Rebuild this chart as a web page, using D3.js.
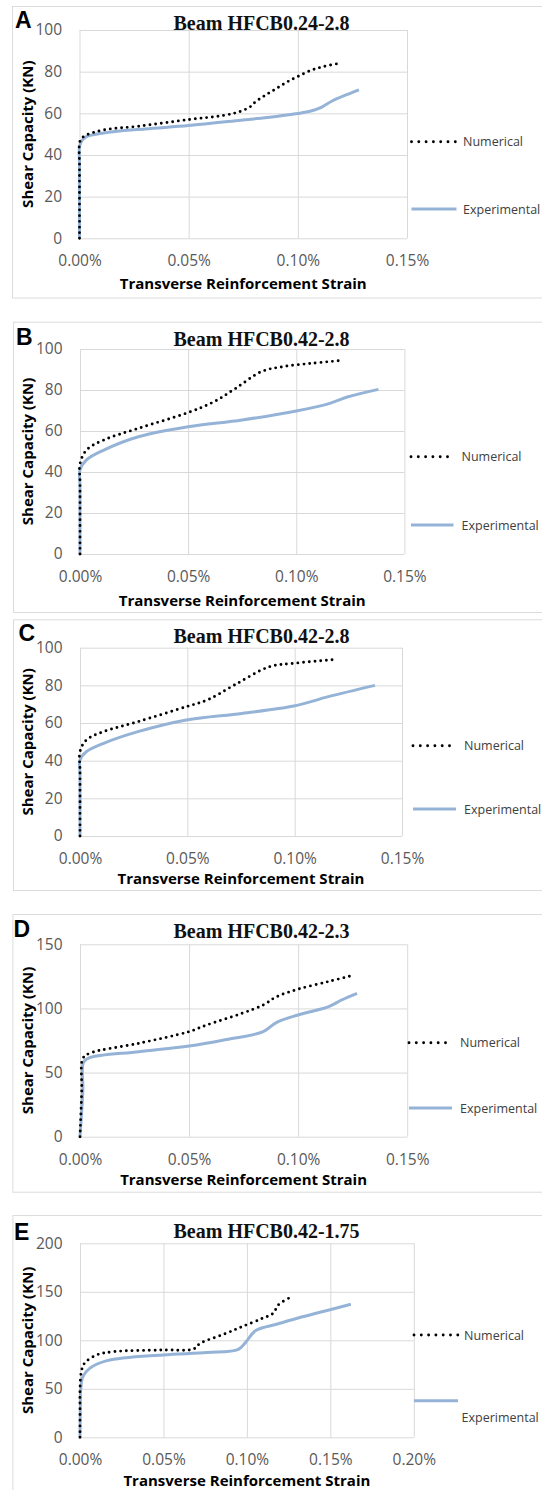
<!DOCTYPE html>
<html>
<head>
<meta charset="utf-8">
<script src="https://cdn.jsdelivr.net/npm/d3@7"></script>
<style>
  body { margin: 0; background: #fff; }
  svg { display: block; }
</style>
</head>
<body>
<svg id="fig" width="542" height="1490"></svg>
<script>
// ---- Data: transverse reinforcement strain (%) vs shear capacity (kN) ----
const panelLetters = ["A", "B", "C", "D", "E"];
const panelTitles = ["Beam HFCB0.24-2.8", "Beam HFCB0.42-2.8", "Beam HFCB0.42-2.8", "Beam HFCB0.42-2.3", "Beam HFCB0.42-1.75"];
const seriesNames = ["Numerical", "Experimental"];

const xTicksShort = [0, 0.05, 0.10, 0.15];
const xTicksLong = [0, 0.05, 0.10, 0.15, 0.20];
const yTicks100 = [0, 20, 40, 60, 80, 100];
const yTicks150 = [0, 50, 100, 150];
const yTicks200 = [0, 50, 100, 150, 200];

const numA = [[0,0],[0,35],[0,45.5],[0.0008,47.8],[0.003,49.5],[0.011,52],[0.027,53.8],[0.05,57],[0.066,59],[0.073,60.7],[0.078,63],[0.0805,65.4],[0.085,68.6],[0.09,71.8],[0.095,75],[0.1,77.7],[0.106,80.6],[0.112,82.5],[0.119,84]];
const expA = [[0,0],[0,35],[0,44],[0.001,46.8],[0.003,48.7],[0.011,50.6],[0.03,52.5],[0.05,54.1],[0.074,56.7],[0.09,58.5],[0.1,59.9],[0.106,61.1],[0.111,63],[0.1155,65.8],[0.122,68.8],[0.128,71.3]];

const numB = [[0,0],[0,35],[0,44],[0.003,50.7],[0.011,55.6],[0.027,61.3],[0.05,69],[0.062,74.3],[0.072,80.8],[0.084,89],[0.094,91.4],[0.107,93],[0.12,94.3]];
const expB = [[0,0],[0,33],[0,41],[0.003,45.9],[0.011,50.7],[0.027,57.2],[0.05,62.1],[0.075,65.4],[0.1,69.8],[0.1155,73.5],[0.124,76.7],[0.138,80.3]];

const numC = [[0,0],[0,35],[0,44.8],[0.003,51],[0.011,55.4],[0.027,60.7],[0.0496,68.7],[0.0593,72.2],[0.072,80.2],[0.0883,89.9],[0.0996,91.7],[0.1197,93.8]];
const expC = [[0,0],[0,33],[0,40.4],[0.003,44.8],[0.011,49.2],[0.027,55.4],[0.0496,61.6],[0.0754,65.1],[0.0996,69],[0.1157,74],[0.1374,80]];

const numD = [[0,0],[0.0008,36],[0.0013,61],[0.0044,65],[0.027,72.8],[0.05,81.9],[0.058,87],[0.074,96],[0.084,102.7],[0.09,109],[0.1,115],[0.114,121],[0.124,125.3]];
const expD = [[0,0],[0.0013,36],[0.0016,58],[0.0044,61.6],[0.027,66.3],[0.05,70.7],[0.066,75.4],[0.084,81.9],[0.09,89],[0.1,94.9],[0.114,101.4],[0.12,106.6],[0.127,111.8]];

const numE = [[0,0],[0,30],[0,48.8],[0.0008,67.7],[0.0027,76.3],[0.01,84.9],[0.0203,88.3],[0.0497,90],[0.068,91],[0.0721,96.9],[0.0866,106.5],[0.097,114],[0.1094,122.7],[0.1157,127.8],[0.1188,136.4],[0.125,143.3]];
const expE = [[0,0],[0.0002,30],[0.0004,48.8],[0.0017,62.5],[0.0058,71.1],[0.0162,79],[0.0497,84.9],[0.0763,87.3],[0.0949,90.7],[0.0991,97.6],[0.1053,110],[0.1177,116.5],[0.1302,122.7],[0.1509,132],[0.1623,137.1]];

const numericalSeries = [numA, numB, numC, numD, numE];
const experimentalSeries = [expA, expB, expC, expD, expE];
const xTickSets = [xTicksShort, xTicksShort, xTicksShort, xTicksShort, xTicksLong];
const yTickSets = [yTicks100, yTicks100, yTicks100, yTicks150, yTicks200];

// ---- Layout of each panel (frame, plot area, legend) ----
const layout = [
  { fx: 12,   fy: 6,      fb: 297.5, l: 79.5, r: 407,   t: 30,    b: 238.3,  titleY: 30,     letterX: 15,   letterY: 27.5,
    lgX1: 411.5, lgX2: 456.5, lgTx: 463,   lgNumY: 141.7,  lgExpY: 209,    lgExpTy: 209,   xTitleDy: 45 },
  { fx: 13,   fy: 321.7,  fb: 612,   l: 80,   r: 404.4, t: 349,   b: 554,    titleY: 346,    letterX: 16,   letterY: 345,
    lgX1: 411,   lgX2: 453.5, lgTx: 461.5, lgNumY: 456.7,  lgExpY: 525,    lgExpTy: 525,   xTitleDy: 46 },
  { fx: 13,   fy: 619.3,  fb: 890,   l: 80,   r: 402,   t: 647.7, b: 836,    titleY: 643.3,  letterX: 18.5, letterY: 640.7,
    lgX1: 413,   lgX2: 456,   lgTx: 464,   lgNumY: 745.7,  lgExpY: 809,    lgExpTy: 809,   xTitleDy: 41.5 },
  { fx: 12.4, fy: 914,    fb: 1191.7,l: 80,   r: 407.2, t: 944.3, b: 1136.7, titleY: 938.3,  letterX: 13.5, letterY: 936.7,
    lgX1: 409,   lgX2: 452,   lgTx: 460,   lgNumY: 1042.7, lgExpY: 1108,   lgExpTy: 1108,  xTitleDy: 42.6 },
  { fx: 12.4, fy: 1215,   fb: 1520,  l: 80,   r: 413.8, t: 1243.3,b: 1437.3, titleY: 1238.3, letterX: 14,   letterY: 1240,
    lgX1: 414,   lgX2: 458,   lgTx: 464,   lgNumY: 1335,   lgExpY: 1400.7, lgExpTy: 1417.7, lgExpTx: 461.5, xTitleDy: 42.7 }
];

const C = {
  frame: "#dcdcdc",
  grid: "#d9d9d9",
  tick: "#595959",
  legendText: "#404040",
  exp: "#95b3d7",
  num: "#000000"
};

const svg = d3.select("#fig");
const fmtPct = v => d3.format(".2f")(v) + "%";

panelLetters.forEach((letter, i) => {
  const L = layout[i];
  const xTicks = xTickSets[i], yTicks = yTickSets[i];
  const g = svg.append("g").attr("class", "panel panel-" + letter);

  // outer frame (runs off the right edge)
  g.append("rect")
    .attr("x", L.fx + 0.5).attr("y", L.fy + 0.5)
    .attr("width", 600).attr("height", L.fb - L.fy)
    .attr("fill", "none").attr("stroke", C.frame).attr("stroke-width", 1);

  const x = d3.scaleLinear().domain([0, d3.max(xTicks)]).range([L.l, L.r]);
  const y = d3.scaleLinear().domain([0, d3.max(yTicks)]).range([L.b, L.t]);

  // y axis with gridlines
  const ya = g.append("g").attr("transform", `translate(${L.l},0)`)
    .call(d3.axisLeft(y).tickValues(yTicks).tickSize(-(L.r - L.l)).tickPadding(17.5).tickFormat(d3.format("d")));
  ya.select(".domain").remove();
  ya.selectAll(".tick line").attr("stroke", C.grid);
  ya.selectAll(".tick text").attr("fill", C.tick)
    .style("font-family", "'Open Sans', sans-serif").style("font-size", "15.5px");

  // x axis with gridlines
  const xa = g.append("g").attr("transform", `translate(0,${L.b})`)
    .call(d3.axisBottom(x).tickValues(xTicks).tickSize(-(L.b - L.t)).tickPadding(17).tickFormat(fmtPct));
  xa.select(".domain").remove();
  xa.selectAll(".tick line").attr("stroke", C.grid);
  xa.selectAll(".tick text").attr("fill", C.tick)
    .style("font-family", "'Open Sans', sans-serif").style("font-size", "15.5px");

  // smoothed lines through the measured points
  const line = d3.line()
    .x(d => x(d[0])).y(d => y(d[1]))
    .curve(d3.curveCatmullRom.alpha(0.5));

  // experimental curve underneath, numerical dots on top
  g.append("path").datum(experimentalSeries[i])
    .attr("d", line).attr("fill", "none")
    .attr("stroke", C.exp).attr("stroke-width", 3).attr("stroke-linejoin", "round");
  g.append("path").datum(numericalSeries[i])
    .attr("d", line).attr("fill", "none")
    .attr("stroke", C.num).attr("stroke-width", 2.9)
    .attr("stroke-linecap", "round").attr("stroke-dasharray", "0,5.7");

  // title
  g.append("text").attr("x", 173.5).attr("y", L.titleY)
    .style("font-family", "'Liberation Serif', 'Times New Roman', serif")
    .style("font-weight", "bold").style("font-size", "20px").attr("fill", "#111")
    .text(panelTitles[i]);

  // panel letter
  g.append("text").attr("x", L.letterX).attr("y", L.letterY)
    .style("font-family", "'Liberation Sans', Arial, sans-serif")
    .style("font-weight", "bold").style("font-size", "23px").attr("fill", "#000")
    .text(letter);

  // axis titles
  g.append("text")
    .attr("x", (L.l + L.r) / 2).attr("y", L.b + L.xTitleDy)
    .attr("text-anchor", "middle").attr("dominant-baseline", "central")
    .style("font-family", "'Open Sans', sans-serif").style("font-weight", "bold").style("font-size", "15px")
    .attr("fill", "#000")
    .text("Transverse Reinforcement Strain");
  g.append("text")
    .attr("transform", `translate(27,${(L.t + L.b) / 2}) rotate(-90)`)
    .attr("text-anchor", "middle").attr("dominant-baseline", "central")
    .style("font-family", "'Open Sans', sans-serif").style("font-weight", "bold").style("font-size", "15px")
    .attr("fill", "#000")
    .text("Shear Capacity (KN)");

  // legend
  const lg = g.append("g");
  lg.append("line").attr("x1", L.lgX1).attr("x2", L.lgX2).attr("y1", L.lgNumY).attr("y2", L.lgNumY)
    .attr("stroke", C.num).attr("stroke-width", 2.9).attr("stroke-linecap", "round").attr("stroke-dasharray", "0,7.3");
  lg.append("text").attr("x", L.lgTx).attr("y", L.lgNumY).attr("dominant-baseline", "central")
    .style("font-family", "'Open Sans', sans-serif").style("font-size", "12.5px").attr("fill", C.legendText)
    .text(seriesNames[0]);
  lg.append("line").attr("x1", L.lgX1).attr("x2", L.lgX2).attr("y1", L.lgExpY).attr("y2", L.lgExpY)
    .attr("stroke", C.exp).attr("stroke-width", 3);
  lg.append("text").attr("x", L.lgExpTx || L.lgTx).attr("y", L.lgExpTy).attr("dominant-baseline", "central")
    .style("font-family", "'Open Sans', sans-serif").style("font-size", "12.5px").attr("fill", C.legendText)
    .text(seriesNames[1]);
});
</script>
</body>
</html>
